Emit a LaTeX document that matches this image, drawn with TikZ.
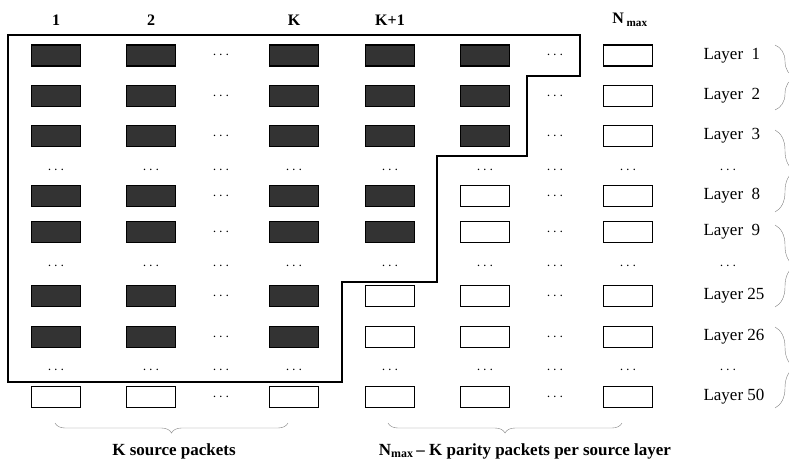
\documentclass[tikz,border=0pt]{standalone}
\usepackage{fontspec}
\setmainfont{Liberation Serif}
\usetikzlibrary{decorations.pathreplacing}
\definecolor{packetgray}{HTML}{333333}
\definecolor{bracegray}{HTML}{808080}

\begin{document}
\begin{tikzpicture}[x=1pt, y=-1pt,
    packet/.style={draw, line width=1.2pt, minimum width=49pt, minimum height=21pt, inner sep=0pt},
    gap/.style={inner sep=0pt, font=\fontsize{14}{14}\selectfont},
    head/.style={font=\fontsize{16}{18}\selectfont\bfseries},
    layer/.style={anchor=west, font=\fontsize{17}{19}\selectfont},
    foot/.style={font=\fontsize{17}{19}\selectfont\bfseries},
    grp/.style={draw=bracegray, decorate, decoration={brace, amplitude=#1}}]
  \useasboundingbox (0,0) rectangle (789,459);

  % Intestazioni
  \node[head] (h1) at (56,20) {1};
  \node[head] (h2) at (151,20) {2};
  \node[head] (hK) at (294,20) {K};
  \node[head] (hK1) at (390,20) {K+1};
  \node[head] (hN) at (630,20) {N\,\textsubscript{max}};

  % Righe di pacchetti (y / strato / colonne piene)
  \foreach \y/\r/\n/\lab in {55.5/1/5/{Layer\enspace 1}, 96/2/5/{Layer\enspace 2},
      136/3/5/{Layer\enspace 3}, 196/8/4/{Layer\enspace 8}, 232/9/4/{Layer\enspace 9},
      296/25/3/{Layer 25}, 337/26/3/{Layer 26}, 397/50/0/{Layer 50}} {
    \foreach \x [count=\c] in {56,151,294,390,485} {
      \ifnum\c>\n \def\fillc{white}\else \def\fillc{packetgray}\fi
      \node[packet, fill=\fillc] (p\r-\c) at (\x,\y) {};
    }
    \node[packet, fill=white] (p\r-N) at (628,\y) {};
    \node[gap] (d\r-a) at (221,\y) {$\cdots$};
    \node[gap] (d\r-b) at (555,\y) {$\cdots$};
    \node[layer] (l\r) at (700,\y) {\lab};
  }

  % Righe di puntini
  \foreach \y/\r in {170/a, 266/b, 370/c}
    \foreach \x [count=\c] in {56,151,221,294,390,485,555,628,728}
      \node[gap] (g\r-\c) at (\x,\y) {$\cdots$};

  % Contorno dei pacchetti sorgente
  \draw[line width=1.5pt] (8,35) -- (580,35) -- (580,76) -- (527,76) -- (527,156)
    -- (437,156) -- (437,282) -- (342,282) -- (342,382) -- (8,382) -- cycle;

  % Parentesi a destra
  \draw[grp=20pt] (775,45) -- (775,110);
  \draw[grp=20pt] (775,130) -- (775,212);
  \draw[grp=20pt] (775,225) -- (775,307);
  \draw[grp=20pt] (775,327) -- (775,408);

  % Parentesi in basso
  \draw[grp=10pt] (288,423) -- (55,423);
  \draw[grp=10pt] (622,423) -- (388,423);
  \node[foot] (src) at (174,451) {K source packets};
  \node[foot] (par) at (525,451) {N\textsubscript{max}\,– K parity packets per source layer};
\end{tikzpicture}
\end{document}
